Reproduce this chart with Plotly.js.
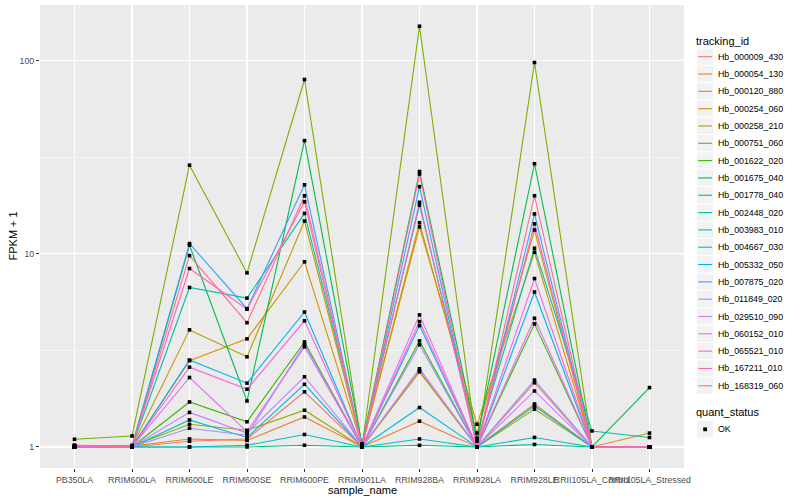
<!DOCTYPE html>
<html>
<head>
<meta charset="utf-8">
<script src="https://cdn.plot.ly/plotly-3.0.1.min.js"></script>
<style>html,body{margin:0;padding:0;background:#fff}#chart{width:800px;height:500px}</style>
</head>
<body>
<div id="chart"></div>
<script>
const categories = ["PB350LA","RRIM600LA","RRIM600LE","RRIM600SE","RRIM600PE","RRIM901LA","RRIM928BA","RRIM928LA","RRIM928LE","RRII105LA_Control","RRII105LA_Stressed"];

const trackingIds = ["Hb_000009_430","Hb_000054_130","Hb_000120_880","Hb_000254_060","Hb_000258_210","Hb_000751_060","Hb_001622_020","Hb_001675_040","Hb_001778_040","Hb_002448_020","Hb_003983_010","Hb_004667_030","Hb_005332_050","Hb_007875_020","Hb_011849_020","Hb_029510_090","Hb_060152_010","Hb_065521_010","Hb_167211_010","Hb_168319_060"];

const quantStatus = ["OK"];

const Hb_000009_430 = [1.01, 1.00, 1.07, 1.10, 1.93, 1.00, 2.48, 1.00, 2.15, 1.00, 1.00];
const Hb_000054_130 = [1.00, 1.01, 1.10, 1.08, 1.43, 1.00, 1.36, 1.00, 1.67, 1.00, 1.00];
const Hb_000120_880 = [1.00, 1.00, 2.80, 3.63, 9.10, 1.02, 13.8, 1.31, 10.2, 1.00, 1.18];
const Hb_000254_060 = [1.00, 1.00, 4.04, 2.93, 14.8, 1.01, 14.5, 1.18, 13.3, 1.00, 1.00];
const Hb_000258_210 = [1.01, 1.01, 1.31, 1.22, 1.55, 1.00, 2.45, 1.00, 1.57, 1.00, 1.00];
const Hb_000751_060 = [1.096, 1.14, 28.8, 7.97, 80.0, 1.00, 151, 1.00, 98.0, 1.00, 1.00];
const Hb_001622_020 = [1.00, 1.00, 1.71, 1.35, 3.50, 1.00, 3.54, 1.00, 4.34, 1.00, 1.00];
const Hb_001675_040 = [1.00, 1.00, 11.1, 1.73, 38.6, 1.03, 26.7, 1.11, 29.3, 1.00, 2.03];
const Hb_001778_040 = [1.00, 1.00, 1.00, 1.00, 1.02, 1.00, 1.02, 1.00, 1.03, 1.00, 1.00];
const Hb_002448_020 = [1.00, 1.00, 6.70, 5.90, 16.2, 1.04, 17.9, 1.07, 10.7, 1.21, 1.12];
const Hb_003983_010 = [1.00, 1.00, 1.00, 1.02, 1.16, 1.00, 1.10, 1.00, 1.12, 1.00, 1.00];
const Hb_004667_030 = [1.00, 1.00, 1.38, 1.12, 2.11, 1.00, 1.60, 1.00, 1.63, 1.00, 1.00];
const Hb_005332_050 = [1.00, 1.00, 2.82, 2.14, 5.00, 1.00, 4.25, 1.00, 6.35, 1.00, 1.00];
const Hb_007875_020 = [1.00, 1.02, 11.3, 5.20, 22.8, 1.00, 22.3, 1.00, 16.1, 1.00, 1.00];
const Hb_011849_020 = [1.00, 1.00, 1.25, 1.15, 3.40, 1.00, 3.38, 1.00, 2.22, 1.00, 1.00];
const Hb_029510_090 = [1.00, 1.00, 1.51, 1.18, 2.31, 1.00, 2.54, 1.00, 1.95, 1.00, 1.00];
const Hb_060152_010 = [1.01, 1.00, 2.29, 1.20, 3.30, 1.00, 4.83, 1.00, 4.64, 1.00, 1.00];
const Hb_065521_010 = [1.01, 1.00, 2.59, 1.99, 4.50, 1.00, 4.46, 1.00, 7.45, 1.00, 1.00];
const Hb_167211_010 = [1.02, 1.01, 8.40, 5.17, 18.6, 1.00, 18.5, 1.00, 14.3, 1.00, 1.00];
const Hb_168319_060 = [1.02, 1.00, 9.80, 4.40, 20.0, 1.00, 25.9, 1.00, 20.0, 1.00, 1.00];

const seriesValues = [Hb_000009_430,Hb_000054_130,Hb_000120_880,Hb_000254_060,Hb_000258_210,Hb_000751_060,Hb_001622_020,Hb_001675_040,Hb_001778_040,Hb_002448_020,Hb_003983_010,Hb_004667_030,Hb_005332_050,Hb_007875_020,Hb_011849_020,Hb_029510_090,Hb_060152_010,Hb_065521_010,Hb_167211_010,Hb_168319_060];

const colors = ["#F8766D","#EA8331","#D89000","#C09B00","#A3A500","#7CAE00","#39B600","#00BB4E","#00BF7D","#00C1A3","#00BFC4","#00BAE0","#00B0F6","#35A2FF","#9590FF","#C77CFF","#E76BF3","#FA62DB","#FF62BC","#FF6C91"];

const yTickVals = [1, 10, 100];
const yTickText = ["1", "10", "100"];
const yMinorVals = [0.3162, 3.162, 31.62];

const font = "Liberation Sans, Arial, Helvetica, sans-serif";

// plot area geometry (pixels)
const W = 800, H = 500;
const M = {l: 40, r: 115.5, t: 5, b: 32};
const plotW = W - M.l - M.r, plotH = H - M.t - M.b;
const pxX = p => (p - M.l) / plotW;
const pxY = p => (H - M.b - p) / plotH;

const traces = trackingIds.map((id, i) => ({
  type: "scatter", mode: "lines", name: id,
  x: categories, y: seriesValues[i],
  line: {color: colors[i], width: 1.1},
  showlegend: false
}));

const px = [], py = [];
seriesValues.forEach(vals => vals.forEach((v, j) => { px.push(categories[j]); py.push(v); }));
traces.push({
  type: "scatter", mode: "markers", name: quantStatus[0],
  x: px, y: py,
  marker: {color: "#000000", symbol: "square", size: 3.6},
  showlegend: false
});

// ggplot-style legend built from the same id / colour arrays
const shapes = [], annotations = [];
const keyL = 697, keyR = 714.3, keyH = 17.32, textX = 716.5;
const legTitleY = 40.7, firstItemY = 56.7;
annotations.push({text: "tracking_id", xref: "paper", yref: "paper", x: pxX(695), y: pxY(legTitleY),
  xanchor: "left", yanchor: "middle", showarrow: false, font: {family: font, size: 11, color: "#000000"}});
trackingIds.forEach((id, i) => {
  const cy = firstItemY + i * keyH;
  shapes.push({type: "rect", xref: "paper", yref: "paper", x0: pxX(keyL), x1: pxX(keyR),
    y0: pxY(cy - keyH / 2), y1: pxY(cy + keyH / 2), fillcolor: "#F2F2F2", line: {color: "#FFFFFF", width: 1}});
  shapes.push({type: "line", xref: "paper", yref: "paper", x0: pxX(keyL + 1.7), x1: pxX(keyR - 1.7),
    y0: pxY(cy), y1: pxY(cy), line: {color: colors[i], width: 1.1}});
  annotations.push({text: id, xref: "paper", yref: "paper", x: pxX(textX), y: pxY(cy),
    xanchor: "left", yanchor: "middle", showarrow: false, font: {family: font, size: 8.8, color: "#000000"}});
});
const qTitleY = 412, qItemY = 429.3;
annotations.push({text: "quant_status", xref: "paper", yref: "paper", x: pxX(695), y: pxY(qTitleY),
  xanchor: "left", yanchor: "middle", showarrow: false, font: {family: font, size: 11, color: "#000000"}});
shapes.push({type: "rect", xref: "paper", yref: "paper", x0: pxX(keyL), x1: pxX(keyR),
  y0: pxY(qItemY - keyH / 2), y1: pxY(qItemY + keyH / 2), fillcolor: "#F2F2F2", line: {color: "#FFFFFF", width: 1}});
shapes.push({type: "rect", xref: "paper", yref: "paper",
  x0: pxX((keyL + keyR) / 2 - 1.9), x1: pxX((keyL + keyR) / 2 + 1.9),
  y0: pxY(qItemY - 1.9), y1: pxY(qItemY + 1.9), fillcolor: "#000000", line: {width: 0}});
annotations.push({text: quantStatus[0], xref: "paper", yref: "paper", x: pxX(textX), y: pxY(qItemY),
  xanchor: "left", yanchor: "middle", showarrow: false, font: {family: font, size: 8.8, color: "#000000"}});

// axis titles
annotations.push({text: "sample_name", xref: "paper", yref: "paper", x: 0.5, y: 0, xanchor: "center", yanchor: "middle",
  yshift: -22, showarrow: false, font: {family: font, size: 11, color: "#000000"}});
annotations.push({text: "FPKM + 1", xref: "paper", yref: "paper", x: 0, y: 0.5, xanchor: "center", yanchor: "middle",
  xshift: -28, textangle: -90, showarrow: false, font: {family: font, size: 11, color: "#000000"}});

const layout = {
  width: W, height: H,
  margin: M,
  paper_bgcolor: "#FFFFFF",
  plot_bgcolor: "#EBEBEB",
  font: {family: font, color: "#000000"},
  showlegend: false,
  xaxis: {
    type: "category",
    categoryorder: "array", categoryarray: categories,
    range: [-0.6, categories.length - 1 + 0.6],
    showgrid: true, gridcolor: "#FFFFFF", gridwidth: 1.1,
    zeroline: false, showline: false,
    ticks: "outside", ticklen: 3, tickwidth: 1, tickcolor: "#333333",
    tickangle: 0,
    tickfont: {family: font, size: 8.8, color: "#4D4D4D"},
    automargin: false, fixedrange: true
  },
  yaxis: {
    type: "log",
    range: [-0.109, 2.289],
    tickmode: "array", tickvals: yTickVals, ticktext: yTickText,
    showgrid: true, gridcolor: "#FFFFFF", gridwidth: 1.1,
    minor: {tickmode: "array", tickvals: yMinorVals, showgrid: true, gridcolor: "#FFFFFF", gridwidth: 0.5, ticks: ""},
    zeroline: false, showline: false,
    ticks: "outside", ticklen: 3, tickwidth: 1, tickcolor: "#333333",
    tickfont: {family: font, size: 8.8, color: "#4D4D4D"},
    automargin: false, fixedrange: true
  },
  shapes: shapes,
  annotations: annotations
};

Plotly.newPlot("chart", traces, layout, {staticPlot: true, displayModeBar: false});
</script>
</body>
</html>
